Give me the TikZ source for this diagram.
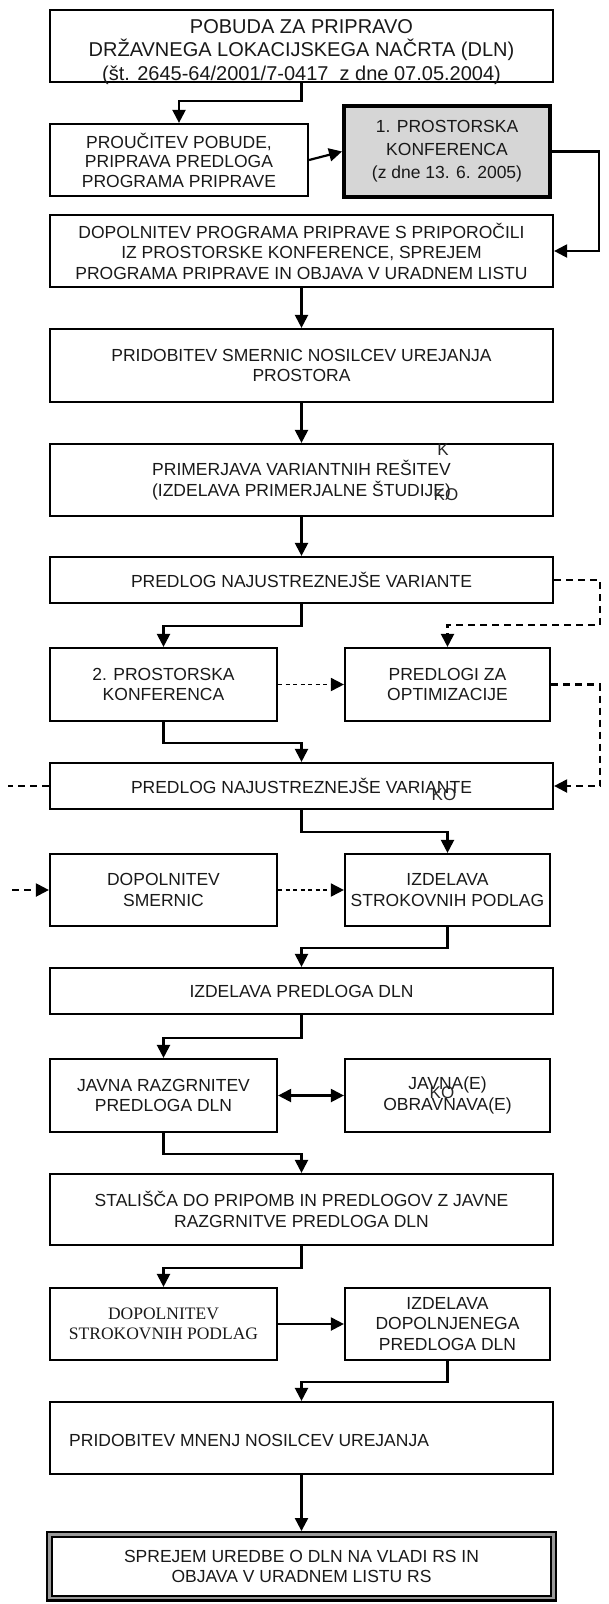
\documentclass[tikz,border=0pt]{standalone}
\usepackage{fontspec}
\setmainfont{Liberation Sans}
\newfontfamily\timesfnt{Liberation Serif}
\usetikzlibrary{arrows.meta}
\begin{document}
\begin{tikzpicture}[x=1pt,y=-1pt,
  box/.style={draw=black, line width=2.2pt, inner sep=0pt, align=center, text=black!90,
    font=\fontsize{17.5}{20.5}\selectfont},
  wide/.style={box, minimum width=503pt},
  half/.style={box, minimum width=227pt},
  halfr/.style={box, minimum width=205pt},
  tall/.style={minimum height=72pt},
  low/.style={minimum height=46pt},
  tip/.style={-{Triangle[length=13pt,width=13pt]}},
  arr/.style={line width=2.2pt, tip},
  dsh/.style={line width=2.2pt, dash pattern=on 7pt off 5pt},
  fdsh/.style={line width=1.8pt, dash pattern=on 4pt off 3.5pt},
  stray/.style={inner sep=0pt, text=black!85, font=\fontsize{17}{17}\selectfont}
]
\useasboundingbox (0,0) rectangle (609,1604);

% boxes
\node[wide, tall] (b1) at (301.5,46) {};
\node[inner sep=0pt, align=center, text=black!90, font=\fontsize{20}{23.5}\selectfont] (b1t) at (301.5,52)
  {POBUDA ZA PRIPRAVO\\DRŽAVNEGA LOKACIJSKEGA NAČRTA (DLN)\\(št. 2645-64/2001/7-0417\ \ z dne 07.05.2004)};

\node[box, minimum width=258pt, tall, font=\fontsize{17.5}{19.5}\selectfont] (b2) at (179,160)
  {PROUČITEV POBUDE,\\PRIPRAVA PREDLOGA\\PROGRAMA PRIPRAVE};
\node[box, line width=4pt, fill=black!16, minimum width=206pt, minimum height=91pt,
  font=\fontsize{17.5}{23}\selectfont] (g) at (447,151.5)
  {1. PROSTORSKA\\KONFERENCA\\(z dne 13. 6. 2005)};

\node[wide, tall] (b3) at (301.5,251)
  {DOPOLNITEV PROGRAMA PRIPRAVE S PRIPOROČILI\\IZ PROSTORSKE KONFERENCE, SPREJEM\\PROGRAMA PRIPRAVE IN OBJAVA V URADNEM LISTU};
\node[wide, minimum height=73pt] (b4) at (301.5,365.5)
  {PRIDOBITEV SMERNIC NOSILCEV UREJANJA\\PROSTORA};
\node[wide, tall] (b5) at (301.5,480)
  {PRIMERJAVA VARIANTNIH REŠITEV\\(IZDELAVA PRIMERJALNE ŠTUDIJE)};
\node[stray] (k1) at (443,450) {K};
\node[stray] (k2) at (446,495) {KO};
\node[wide, low] (b6) at (301.5,580) {PREDLOG NAJUSTREZNEJŠE VARIANTE};

\node[half, minimum height=73pt] (b7) at (163.5,684.5) {2. PROSTORSKA\\KONFERENCA};
\node[halfr, minimum height=73pt] (b8) at (447.5,684.5) {PREDLOGI ZA\\OPTIMIZACIJE};
\node[wide, low] (b9) at (301.5,786) {PREDLOG NAJUSTREZNEJŠE VARIANTE};
\node[stray] (k3) at (444,795) {KO};

\node[half, tall] (b10) at (163.5,890) {DOPOLNITEV\\SMERNIC};
\node[halfr, tall] (b11) at (447.5,890) {IZDELAVA\\STROKOVNIH PODLAG};
\node[wide, low] (b12) at (301.5,991) {IZDELAVA PREDLOGA DLN};

\node[half, minimum height=73pt] (b13) at (163.5,1095.5) {JAVNA RAZGRNITEV\\PREDLOGA DLN};
\node[halfr, minimum height=73pt] (b14) at (447.5,1095.5) {JAVNA(E)\\OBRAVNAVA(E)};
\node[stray] (k4) at (442,1093) {KO};
\node[wide, minimum height=71pt] (b15) at (301.5,1209.5)
  {STALIŠČA DO PRIPOMB IN PREDLOGOV Z JAVNE\\RAZGRNITVE PREDLOGA DLN};

\node[half, tall, font=\timesfnt\fontsize{17.5}{20.5}\selectfont] (b16) at (163.5,1324)
  {DOPOLNITEV\\STROKOVNIH PODLAG};
\node[halfr, tall] (b17) at (447.5,1324) {IZDELAVA\\DOPOLNJENEGA\\PREDLOGA DLN};
\node[wide, tall] (b18) at (301.5,1438) {};
\node[inner sep=0pt, anchor=west, text=black!90, font=\fontsize{17.5}{20.5}\selectfont] (b18t) at (69,1440)
  {PRIDOBITEV MNENJ NOSILCEV UREJANJA};

\node[box, line width=7pt, outer sep=0pt, minimum width=504pt, minimum height=63.5pt] (b19) at (301.5,1566.3)
  {SPREJEM UREDBE O DLN NA VLADI RS IN\\OBJAVA V URADNEM LISTU RS};
\draw[black!40, line width=2.4pt] (b19.south west) rectangle (b19.north east);

% free ends
\coordinate (l1) at (8,786);
\coordinate (l2) at (12,890);

% solid connectors
\draw[arr] (b1.south) -- ++(0,18) -| (b2.north);
\draw[arr] (b2.east) -- (g.west);
\draw[arr] (g.east) -- ++(47,0) |- (b3.east);
\draw[arr] (b3.south) -- (b4.north);
\draw[arr] (b4.south) -- (b5.north);
\draw[arr] (b5.south) -- (b6.north);
\draw[arr] (b6.south) -- ++(0,22) -| (b7.north);
\draw[arr] (b7.south) -- ++(0,21) -| (b9.north);
\draw[arr] (b9.south) -- ++(0,22) -| (b11.north);
\draw[arr] (b11.south) -- ++(0,21) -| (b12.north);
\draw[arr] (b12.south) -- ++(0,23) -| (b13.north);
\draw[line width=2.2pt, {Triangle[length=13pt,width=13pt]}-{Triangle[length=13pt,width=13pt]}] (b13.east) -- (b14.west);
\draw[arr] (b13.south) -- ++(0,21) -| (b15.north);
\draw[arr] (b15.south) -- ++(0,22) -| (b16.north);
\draw[arr] (b16.east) -- (b17.west);
\draw[arr] (b17.south) -- ++(0,21) -| (b18.north);
\draw[arr, shorten >=3.5pt] (b18.south) -- (b19.north);

% dashed connectors
\draw[dsh, tip] (b6.east) -- ++(46,0) -- ++(0,45) -| (b8.north);
\draw[fdsh, tip] (b7.east) -- (b8.west);
\draw[dsh, tip] (b8.east) -- ++(49,0) |- (b9.east);
\draw[dsh] (b9.west) -- (l1);
\draw[dsh, tip] (l2) -- (b10.west);
\draw[fdsh, tip] (b10.east) -- (b11.west);
\end{tikzpicture}
\end{document}
